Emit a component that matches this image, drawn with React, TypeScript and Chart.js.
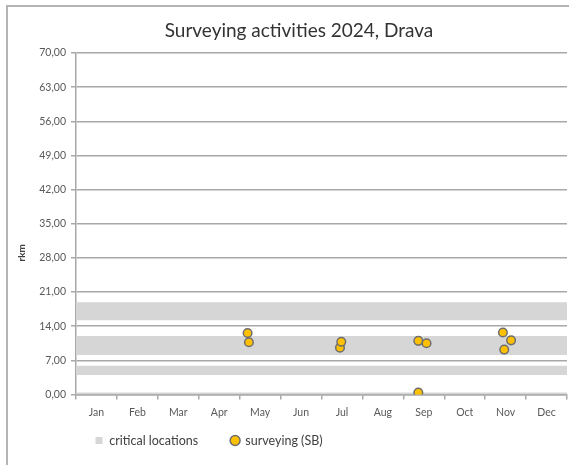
import React, { useEffect, useRef } from "react";
import { Chart, registerables } from "chart.js";

Chart.register(...registerables);

// ---- data ----
const chartTitle = "Surveying activities 2024, Drava";
const yAxisTitle = "rkm";
const monthLabels = ["Jan", "Feb", "Mar", "Apr", "May", "Jun", "Jul", "Aug", "Sep", "Oct", "Nov", "Dec"];

// critical locations (river km ranges)
const bandBottom = [15.2, 8.1, 4.0, 0.0];
const bandTop = [18.9, 12.0, 5.9, 0.4];

// surveying (SB)
const surveyDates = [
  "2024-05-07", "2024-05-08",
  "2024-07-15", "2024-07-16",
  "2024-09-12", "2024-09-18", "2024-09-12",
  "2024-11-14", "2024-11-20", "2024-11-15",
];
const surveyRkm = [
  12.6, 10.7,
  9.6, 10.8,
  11.0, 10.5, 0.4,
  12.7, 11.1, 9.2,
];

const yMin = 0;
const yMax = 70;
const yStep = 7;

// ---- helpers ----
const monthPos = (iso: string) => {
  const [y, m, d] = iso.split("-").map(Number);
  const days = new Date(y, m, 0).getDate();
  return m - 1 + (d - 1) / days;
};

const FONT = "Lato, 'Open Sans', 'DejaVu Sans', sans-serif";
const GRID = "#a8a8a8";
const BAND = "#d6d6d6";

export default function App() {
  const ref = useRef<HTMLCanvasElement | null>(null);

  useEffect(() => {
    if (!ref.current) return;

    const bandSets = bandTop.map((top, i) => ({
      type: "line" as const,
      label: "critical locations",
      data: [
        { x: 0, y: top },
        { x: monthLabels.length, y: top },
      ],
      xAxisID: "x",
      yAxisID: "y",
      showLine: true,
      borderWidth: 0,
      borderColor: BAND,
      backgroundColor: BAND,
      pointRadius: 0,
      pointHoverRadius: 0,
      pointStyle: "rect" as const,
      fill: { value: bandBottom[i] },
      order: 2,
    }));

    const pointSet = {
      type: "scatter" as const,
      label: "surveying (SB)",
      data: surveyDates.map((d, i) => ({ x: monthPos(d), y: surveyRkm[i] })),
      xAxisID: "x",
      yAxisID: "y",
      showLine: false,
      pointStyle: "circle" as const,
      pointRadius: 4.3,
      pointBorderWidth: 1.5,
      backgroundColor: "#FFC000",
      borderColor: "#6e6e6e",
      borderWidth: 1.5,
      order: 1,
    };

    const legendPad = 33;
    const legendFont = 12.5;

    const rkmTitle = {
      id: "rkmTitle",
      afterLayout(chart: any) {
        const ca = chart.chartArea;
        const lg = chart.legend;
        if (lg) {
          lg.left = ca.left + 19 - legendPad;
          lg.top = ca.bottom + 46 - legendPad - legendFont / 2;
        }
      },
      afterDraw(chart: any) {
        const ca = chart.chartArea;
        const ctx = chart.ctx;
        ctx.save();
        ctx.translate(ca.left - 54, (ca.top + ca.bottom) / 2 + 29);
        ctx.rotate(-Math.PI / 2);
        ctx.font = `bold 10px ${FONT}`;
        ctx.fillStyle = "#404040";
        ctx.textAlign = "center";
        ctx.textBaseline = "middle";
        ctx.fillText(yAxisTitle, 0, 0);
        ctx.restore();
      },
    };

    const chart = new Chart(ref.current, {
      type: "scatter",
      data: {
        labels: monthLabels,
        datasets: [pointSet as any, ...(bandSets as any[])],
      },
      plugins: [rkmTitle],
      options: {
        animation: false,
        responsive: false,
        maintainAspectRatio: false,
        layout: { padding: { left: 31, right: 33, top: 0, bottom: 0 } },
        plugins: {
          title: {
            display: true,
            text: chartTitle,
            color: "#333333",
            font: { family: FONT, size: 19, weight: "normal" },
            padding: { top: 19.6, bottom: 10.6 },
          },
          legend: {
            display: true,
            position: "bottom",
            align: "start",
            maxHeight: 26,
            labels: {
              usePointStyle: true,
              boxWidth: 8,
              boxHeight: 7,
              padding: legendPad,
              color: "#404040",
              font: { family: FONT, size: legendFont },
              filter: (item: any, data: any) => {
                const idx = item.datasetIndex;
                const lbl = data.datasets[idx].label;
                return data.datasets.findIndex((d: any) => d.label === lbl) === idx;
              },
              sort: (a: any, b: any) => (a.text === "critical locations" ? -1 : 1),
            },
          },
          tooltip: { enabled: false },
        },
        scales: {
          x: {
            type: "linear",
            display: false,
            min: 0,
            max: monthLabels.length,
          },
          months: {
            type: "category",
            position: "bottom",
            labels: monthLabels,
            offset: true,
            grid: {
              offset: true,
              drawOnChartArea: false,
              drawTicks: true,
              tickLength: 5,
              color: GRID,
              lineWidth: 1.5,
            },
            border: { display: true, color: GRID, width: 1.5 },
            ticks: {
              color: "#595959",
              font: { family: FONT, size: 10.5 },
              padding: 7,
              maxRotation: 0,
              autoSkip: false,
            },
            afterFit: (s: any) => {
              s.height = 44.5;
            },
          },
          y: {
            type: "linear",
            min: yMin,
            max: yMax,
            ticks: {
              stepSize: yStep,
              color: "#595959",
              font: { family: FONT, size: 10.5 },
              padding: 5,
              callback: (v: any) => Number(v).toFixed(2).replace(".", ","),
            },
            grid: {
              color: GRID,
              lineWidth: 1.5,
              drawTicks: true,
              tickLength: 5,
            },
            border: { display: true, color: GRID, width: 1.5 },
            afterFit: (s: any) => {
              s.width = 45;
            },
          },
        },
      } as any,
    });

    return () => chart.destroy();
  }, []);

  return (
    <div
      style={{
        position: "fixed",
        left: 0,
        top: 0,
        width: 569,
        height: 465,
        overflow: "hidden",
        background: "#ffffff",
      }}
    >
      <div
        style={{
          position: "absolute",
          left: 6,
          top: 5,
          width: 590,
          height: 520,
          border: "2px solid #b4b4b4",
          boxSizing: "border-box",
        }}
      />
      <canvas
        ref={ref}
        width={600}
        height={465}
        style={{ position: "absolute", left: 0, top: 0, width: 600, height: 465 }}
      />
    </div>
  );
}
